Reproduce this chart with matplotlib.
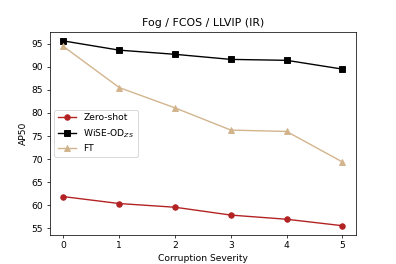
import matplotlib
matplotlib.use("Agg")
import matplotlib.pyplot as plt

severity = [0, 1, 2, 3, 4, 5]
zero_shot = [61.9, 60.4, 59.6, 57.9, 57.0, 55.6]
wise_od = [95.6, 93.6, 92.7, 91.6, 91.4, 89.5]
ft = [94.4, 85.5, 81.1, 76.3, 76.0, 69.4]


def main() -> None:
    fig, ax = plt.subplots(figsize=(6, 4), dpi=66)
    ax.plot(severity, zero_shot, marker="o", color="firebrick", label="Zero-shot")
    ax.plot(severity, wise_od, marker="s", color="black", label="WiSE-OD$_{ZS}$")
    ax.plot(severity, ft, marker="^", color="tan", label="FT")
    ax.set_xlabel("Corruption Severity")
    ax.set_ylabel("AP50")
    ax.set_title("Fog / FCOS / LLVIP (IR)")
    ax.set_xticks(severity)
    ax.legend(loc="center left")
    fig.savefig("out.png", dpi=66)
    plt.close(fig)


if __name__ == "__main__":
    main()
